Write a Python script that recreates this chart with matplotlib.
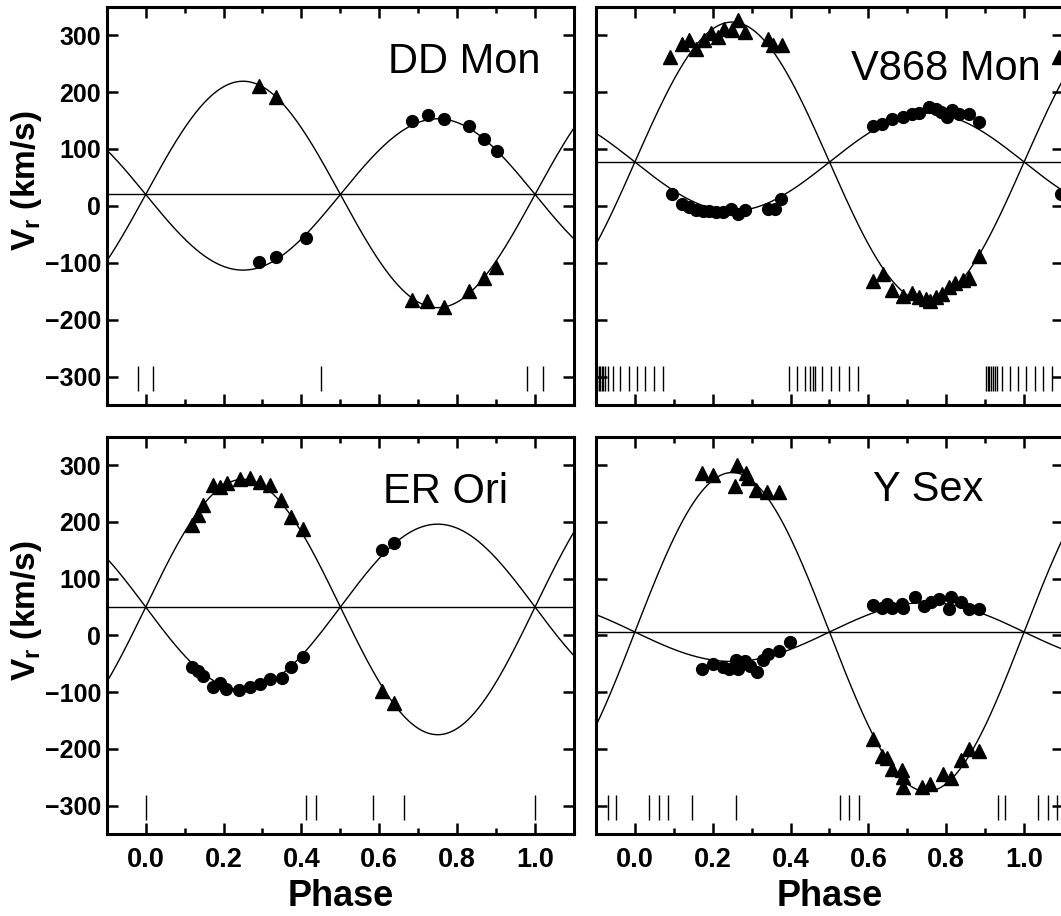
import numpy as np
import matplotlib
matplotlib.use("Agg")
import matplotlib.pyplot as plt
from matplotlib.ticker import FixedLocator, FormatStrFormatter

plt.rcParams["font.family"] = ["Liberation Sans", "DejaVu Sans"]
plt.rcParams["mathtext.fontset"] = "custom"
plt.rcParams["mathtext.rm"] = "Liberation Sans"
plt.rcParams["mathtext.bf"] = "Liberation Sans:bold"

# ---- DD Mon ----
dd_gamma, dd_k1, dd_k2 = 20, 133, 199
dd_tri_phase = [0.291, 0.335, 0.685, 0.723, 0.767, 0.830, 0.870, 0.900]
dd_tri_vel = [210, 191, -166, -168, -178, -149, -127, -108]
dd_dot_phase = [0.291, 0.335, 0.413, 0.685, 0.726, 0.765, 0.830, 0.870, 0.902]
dd_dot_vel = [-99, -90, -57, 149, 159, 152, 140, 117, 96]
dd_obs = [0.02, 0.45, 0.98]

# ---- V868 Mon ----
v8_gamma, v8_k1, v8_k2 = 77, 86, 246
v8_tri_phase = [0.090, 0.122, 0.139, 0.156, 0.178, 0.195, 0.213, 0.230, 0.250,
                0.265, 0.282, 0.343, 0.356, 0.378,
                0.612, 0.638, 0.661, 0.690, 0.712, 0.729, 0.747, 0.758, 0.773,
                0.790, 0.807, 0.823, 0.842, 0.859, 0.885]
v8_tri_vel = [262, 285, 292, 275, 292, 303, 296, 310, 309,
              326, 306, 294, 282, 282,
              -133, -120, -148, -158, -154, -160, -164, -167, -161,
              -155, -143, -136, -131, -127, -89]
v8_dot_phase = [0.095, 0.122, 0.139, 0.156, 0.174, 0.191, 0.208, 0.227, 0.247,
                0.265, 0.282, 0.343, 0.360, 0.375,
                0.612, 0.634, 0.660, 0.690, 0.712, 0.729, 0.755, 0.773, 0.786,
                0.803, 0.816, 0.833, 0.859, 0.884]
v8_dot_vel = [21, 4, -2, -7, -9, -9, -11, -11, -5,
              -14, -7, -5, -5, 12,
              140, 144, 153, 156, 161, 163, 174, 171, 165,
              156, 168, 162, 162, 147]
v8_obs = [0.903, 0.907, 0.911, 0.915, 0.919, 0.924, 0.930, 0.944, 0.963, 0.984,
          0.006, 0.027, 0.049, 0.071,
          0.395, 0.417, 0.438, 0.451, 0.458, 0.464, 0.482, 0.503, 0.525, 0.551, 0.573]

# ---- ER Ori ----
er_gamma, er_k1, er_k2 = 50, 146, 225
er_tri_phase = [0.120, 0.135, 0.148, 0.174, 0.191, 0.209, 0.242, 0.268, 0.294,
                0.320, 0.348, 0.372, 0.404, 0.607, 0.639]
er_tri_vel = [194, 212, 229, 265, 262, 268, 276, 278, 271,
              265, 238, 209, 188, -98, -119]
er_dot_phase = [0.120, 0.135, 0.148, 0.174, 0.190, 0.207, 0.239, 0.268, 0.294,
                0.320, 0.350, 0.374, 0.404, 0.607, 0.639]
er_dot_vel = [-56, -63, -71, -91, -84, -94, -96, -91, -85,
              -76, -75, -56, -38, 151, 163]
er_obs = [0.0, 0.413, 0.437, 0.583, 0.663]

# ---- Y Sex ----
ys_gamma, ys_k1, ys_k2 = 6, 52, 281
ys_tri_phase = [0.172, 0.200, 0.262, 0.257, 0.286, 0.291, 0.311, 0.339, 0.369,
                0.612, 0.634, 0.647, 0.660, 0.686, 0.690, 0.690, 0.738, 0.758,
                0.792, 0.812, 0.838, 0.859, 0.884]
ys_tri_vel = [286, 282, 301, 263, 287, 277, 257, 253, 253,
              -183, -212, -216, -235, -237, -249, -268, -268, -262,
              -244, -251, -220, -200, -203]
ys_dot_phase = [0.172, 0.200, 0.226, 0.243, 0.260, 0.265, 0.282, 0.295, 0.314,
                0.330, 0.343, 0.369, 0.398,
                0.612, 0.634, 0.647, 0.660, 0.686, 0.690, 0.720, 0.742, 0.760,
                0.781, 0.807, 0.812, 0.838, 0.859, 0.884]
ys_dot_vel = [-60, -51, -55, -60, -44, -60, -45, -54, -64,
              -44, -33, -27, -11,
              54, 48, 56, 48, 56, 48, 67, 52, 58,
              64, 46, 67, 58, 46, 46]
ys_obs = [0.036, 0.062, 0.085, 0.146, 0.260, 0.528, 0.551, 0.577, 0.932, 0.952]

stars = [
    ("DD Mon", dd_gamma, dd_k1, dd_k2, dd_tri_phase, dd_tri_vel, dd_dot_phase, dd_dot_vel, dd_obs),
    ("V868 Mon", v8_gamma, v8_k1, v8_k2, v8_tri_phase, v8_tri_vel, v8_dot_phase, v8_dot_vel, v8_obs),
    ("ER Ori", er_gamma, er_k1, er_k2, er_tri_phase, er_tri_vel, er_dot_phase, er_dot_vel, er_obs),
    ("Y Sex", ys_gamma, ys_k1, ys_k2, ys_tri_phase, ys_tri_vel, ys_dot_phase, ys_dot_vel, ys_obs),
]

# label placement (axes fraction, left edge + baseline)
label_pos = [(0.602, 0.834), (0.545, 0.816), (0.591, 0.833), (0.594, 0.838)]

fig = plt.figure(figsize=(10.61, 9.16), dpi=100)
rects = [
    [0.1006, 0.5579, 0.4404, 0.4348],
    [0.5617, 0.5579, 0.4402, 0.4348],
    [0.1006, 0.0895, 0.4404, 0.4337],
    [0.5617, 0.0895, 0.4402, 0.4337],
]

phase_grid = np.linspace(-0.1, 1.1, 600)

for i, (name, g, k1, k2, tp, tv, dp, dv, obs) in enumerate(stars):
    ax = fig.add_axes(rects[i])
    # orbit curves and systemic velocity
    ax.plot(phase_grid, g - k1 * np.sin(2 * np.pi * phase_grid), color="black", lw=1.0)
    ax.plot(phase_grid, g + k2 * np.sin(2 * np.pi * phase_grid), color="black", lw=1.0)
    ax.axhline(g, color="black", lw=1.0)

    # observations, repeated past phase 1
    for shift in (0, 1):
        ax.plot(np.array(tp) + shift, tv, ls="none", marker="^", ms=10,
                color="black", mec="black")
        ax.plot(np.array(dp) + shift, dv, ls="none", marker="o", ms=8.5,
                color="black", mec="black")
    for shift in (-1, 0, 1):
        ax.vlines(np.array(obs) + shift, -325, -282, color="black", lw=1.0)

    ax.text(label_pos[i][0], label_pos[i][1], name, transform=ax.transAxes,
            fontsize=30, ha="left", va="baseline")

    ax.set_xlim(-0.1, 1.1)
    ax.set_ylim(-350, 350)
    ax.xaxis.set_major_locator(FixedLocator([0.0, 0.2, 0.4, 0.6, 0.8, 1.0]))
    ax.xaxis.set_minor_locator(FixedLocator([0.1, 0.3, 0.5, 0.7, 0.9]))
    ax.xaxis.set_major_formatter(FormatStrFormatter("%.1f"))
    ax.yaxis.set_major_locator(FixedLocator([-300, -200, -100, 0, 100, 200, 300]))
    ax.tick_params(which="both", direction="in", top=True, right=True, width=1.8)
    ax.tick_params(which="major", length=8)
    ax.tick_params(which="minor", length=4.5)
    ax.tick_params(axis="x", pad=9)
    ax.tick_params(axis="y", pad=4)
    for sp in ax.spines.values():
        sp.set_linewidth(2.2)
    for lab in ax.get_xticklabels():
        lab.set_fontsize(19.5)
        lab.set_fontweight("bold")
    for lab in ax.get_yticklabels():
        lab.set_fontsize(18)
        lab.set_fontweight("bold")

    if i % 2 == 0:
        ax.set_ylabel(r"V$_{\mathbf{r}}$ (km/s)", fontsize=24, fontweight="bold")
        ax.yaxis.set_label_coords(-0.135, 0.563)
    else:
        ax.tick_params(axis="y", labelleft=False)
    if i < 2:
        ax.tick_params(axis="x", labelbottom=False)
    else:
        ax.set_xlabel("Phase", fontsize=26, fontweight="bold", labelpad=5)

fig.savefig("out.png", dpi=100)
